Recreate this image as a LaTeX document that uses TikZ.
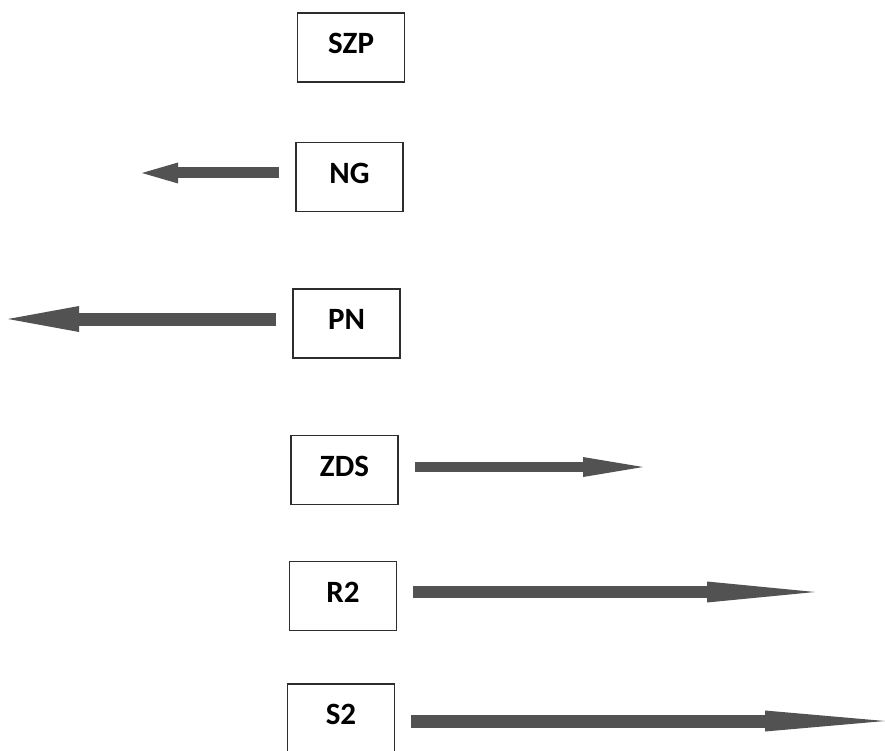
\documentclass[tikz,border=0pt]{standalone}
\usepackage{fontspec}
\setmainfont{Carlito}
\usetikzlibrary{arrows.meta,positioning}
\definecolor{bordercolor}{RGB}{45,45,45}
\definecolor{arrowcolor}{RGB}{82,82,82}
\tikzset{
    item/.style={
        rectangle,
        minimum width=107pt,
        minimum height=69pt,
        inner sep=0pt,
        text depth=8pt,
        text centered,
        draw=bordercolor,
        line width=1.5pt,
        font=\fontsize{31}{34}\selectfont\bfseries
    },
    arrow/.style={line width=12pt, draw=arrowcolor, shorten <=16pt}
}
\begin{document}
\begin{tikzpicture}[x=1pt, y=-1pt]
    \useasboundingbox (0,0) rectangle (885,751);

    % Boxes
    \node[item] (szp) at (351,47.5) {SZP};
    \node[item] (ng) at (349.5,177) {NG};
    \node[item] (pn) at (346.5,323.5) {PN};
    \node[item] (zds) at (344.5,470) {ZDS};
    \node[item] (r2) at (343,596) {R2};
    \node[item] (s2) at (341,718.5) {S2};

    % Arrow tips
    \coordinate (ngtip) at (142,173);
    \coordinate (pntip) at (8,319);
    \coordinate (zdstip) at (643,467);
    \coordinate (r2tip) at (815,592);
    \coordinate (s2tip) at (885,721);

    % Arrows
    \draw[arrow, line width=11pt, -{Triangle[length=36pt,width=21pt,line width=0pt]}] (ng.west |- ngtip) -- (ngtip);
    \draw[arrow, line width=13pt, -{Triangle[length=71pt,width=26pt,line width=0pt]}] (pn.west |- pntip) -- (pntip);
    \draw[arrow, line width=10pt, -{Triangle[length=60pt,width=20pt,line width=0pt]}] (zds.east |- zdstip) -- (zdstip);
    \draw[arrow, -{Triangle[length=108pt,width=21pt,line width=0pt]}] (r2.east |- r2tip) -- (r2tip);
    \draw[arrow, line width=13pt, -{Triangle[length=120pt,width=21pt,line width=0pt]}] (s2.east |- s2tip) -- (s2tip);
\end{tikzpicture}
\end{document}
